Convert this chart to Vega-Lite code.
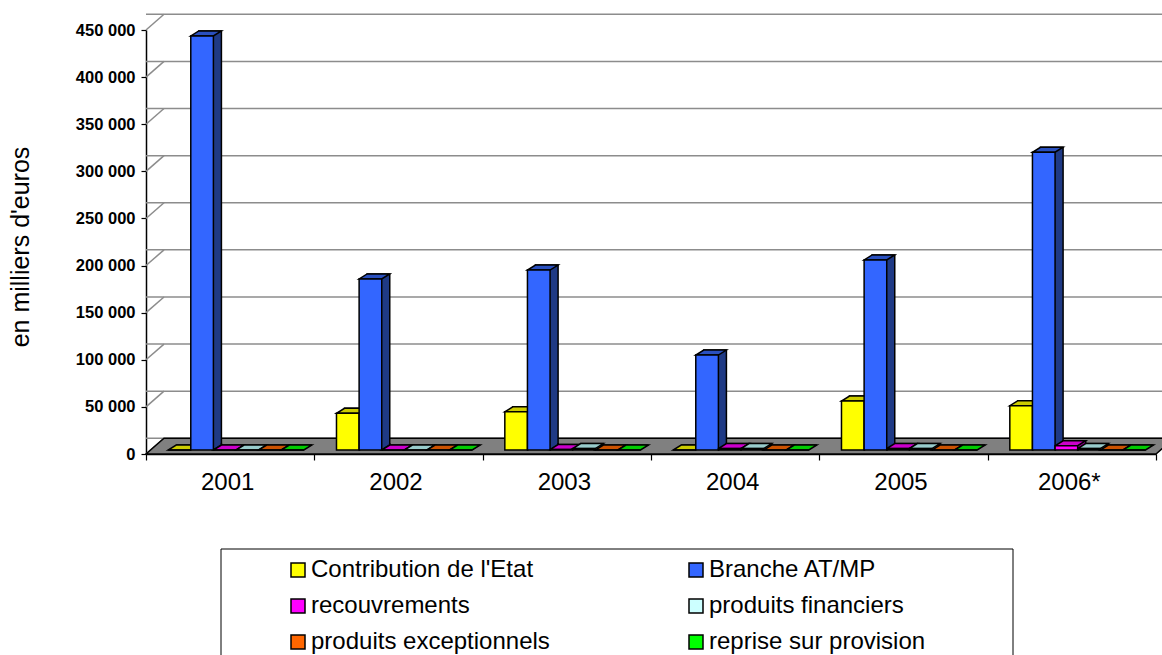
{"$schema":"https://vega.github.io/schema/vega-lite/v6.json","width":1010,"height":424,"autosize":{"type":"none"},"padding":{"left":146,"top":30,"right":6,"bottom":201},"background":"white",
"datasets":{"grid":[{"v":0},{"v":50000},{"v":100000},{"v":150000},{"v":200000},{"v":250000},{"v":300000},{"v":350000},{"v":400000},{"v":450000}],"origin":[{"v":0}],
"bars":[
{"annee":"2001","serie":"Contribution de l'Etat","valeur":0},{"annee":"2001","serie":"Branche AT/MP","valeur":439500},{"annee":"2001","serie":"recouvrements","valeur":0},{"annee":"2001","serie":"produits financiers","valeur":0},{"annee":"2001","serie":"produits exceptionnels","valeur":0},{"annee":"2001","serie":"reprise sur provision","valeur":0},
{"annee":"2002","serie":"Contribution de l'Etat","valeur":39000},{"annee":"2002","serie":"Branche AT/MP","valeur":181500},{"annee":"2002","serie":"recouvrements","valeur":0},{"annee":"2002","serie":"produits financiers","valeur":0},{"annee":"2002","serie":"produits exceptionnels","valeur":0},{"annee":"2002","serie":"reprise sur provision","valeur":0},
{"annee":"2003","serie":"Contribution de l'Etat","valeur":40500},{"annee":"2003","serie":"Branche AT/MP","valeur":191000},{"annee":"2003","serie":"recouvrements","valeur":500},{"annee":"2003","serie":"produits financiers","valeur":1500},{"annee":"2003","serie":"produits exceptionnels","valeur":0},{"annee":"2003","serie":"reprise sur provision","valeur":0},
{"annee":"2004","serie":"Contribution de l'Etat","valeur":0},{"annee":"2004","serie":"Branche AT/MP","valeur":100800},{"annee":"2004","serie":"recouvrements","valeur":1500},{"annee":"2004","serie":"produits financiers","valeur":1500},{"annee":"2004","serie":"produits exceptionnels","valeur":0},{"annee":"2004","serie":"reprise sur provision","valeur":0},
{"annee":"2005","serie":"Contribution de l'Etat","valeur":52000},{"annee":"2005","serie":"Branche AT/MP","valeur":201700},{"annee":"2005","serie":"recouvrements","valeur":1500},{"annee":"2005","serie":"produits financiers","valeur":1500},{"annee":"2005","serie":"produits exceptionnels","valeur":0},{"annee":"2005","serie":"reprise sur provision","valeur":0},
{"annee":"2006*","serie":"Contribution de l'Etat","valeur":47000},{"annee":"2006*","serie":"Branche AT/MP","valeur":316000},{"annee":"2006*","serie":"recouvrements","valeur":4500},{"annee":"2006*","serie":"produits financiers","valeur":1500},{"annee":"2006*","serie":"produits exceptionnels","valeur":0},{"annee":"2006*","serie":"reprise sur provision","valeur":0}
]},
"config":{"view":{"stroke":null},"font":"Liberation Sans"},
"resolve":{"scale":{"fill":"independent","xOffset":"independent"}},
"layer":[
{"data":{"name":"grid"},"mark":{"type":"rule","color":"#8c8c8c","strokeWidth":1.5,"xOffset":18,"x2Offset":18,"yOffset":-15.7,"clip":false},"encoding":{"y":{"field":"v","type":"quantitative","scale":{"domain":[0,450000],"nice":false},"title":"en milliers d'euros","axis":{"values":[0,50000,100000,150000,200000,250000,300000,350000,400000,450000],"labelExpr":"replace(format(datum.value,',d'),',',' ')","labelFontSize":16.5,"labelFontWeight":"bold","labelFont":"Liberation Sans","labelColor":"black","domainColor":"black","domainWidth":1.5,"tickColor":"black","tickWidth":1.2,"tickSize":5,"labelPadding":6,"grid":false,"titleFontSize":25,"titleFontWeight":"normal","titleFont":"Liberation Sans","titleColor":"black","titlePadding":42,"titleY":216.5}}}},
{"data":{"name":"grid"},"mark":{"type":"point","shape":"M0,0 L18,-15.7","size":4,"filled":false,"opacity":1,"stroke":"#8c8c8c","strokeWidth":1.5},"encoding":{"x":{"datum":"2001","type":"nominal","bandPosition":0},"y":{"field":"v","type":"quantitative"}}},
{"data":{"name":"origin"},"mark":{"type":"point","shape":"M0,0 L1010,0 L1028,-15.7 L18,-15.7 Z","size":4,"filled":true,"opacity":1,"fill":"#808080","stroke":"black","strokeWidth":1.5},"encoding":{"x":{"datum":"2001","type":"nominal","bandPosition":0},"y":{"field":"v","type":"quantitative"}}},
{"data":{"name":"origin"},"mark":{"type":"point","shape":"M75,95 L867,95 L867,215 L75,215 Z","size":4,"filled":false,"opacity":1,"stroke":"black","strokeWidth":1},"encoding":{"x":{"datum":"2001","type":"nominal","bandPosition":0},"y":{"field":"v","type":"quantitative"}}},
{"data":{"name":"bars"},"mark":{"type":"bar","yOffset":-9,"y2Offset":-9,"stroke":"black","strokeWidth":1.5},"encoding":{
"x":{"field":"annee","type":"nominal","sort":null,"scale":{"paddingInner":0,"paddingOuter":0},"title":null,"axis":{"tickBand":"extent","labelAngle":0,"labelAlign":"center","labelFontSize":24,"labelFont":"Liberation Sans","labelColor":"black","domainColor":"black","domainWidth":1.5,"tickColor":"black","tickWidth":1.2,"tickSize":6,"labelPadding":22,"labelOffset":-3,"grid":false}},
"xOffset":{"field":"serie","type":"nominal","scale":{"domain":["Contribution de l'Etat","Branche AT/MP","recouvrements","produits financiers","produits exceptionnels","reprise sur provision"],"paddingInner":0,"paddingOuter":0.72,"align":0.926}},
"y":{"field":"valeur","type":"quantitative"},
"fill":{"field":"serie","type":"nominal","legend":null,"scale":{"domain":["Contribution de l'Etat","Branche AT/MP","recouvrements","produits financiers","produits exceptionnels","reprise sur provision"],"range":["#999900","#1f3a85","#990099","#669999","#993300","#009900"]}}}},
{"data":{"name":"bars"},"transform":[{"filter":"datum.valeur > 2000"}],"mark":{"type":"point","shape":"M11.3,0 L19.3,-5 L19.3,-6 L11.3,-6 Z","size":4,"filled":true,"opacity":1,"yOffset":-4,"strokeWidth":0},"encoding":{
"x":{"field":"annee","type":"nominal","sort":null},
"xOffset":{"field":"serie","type":"nominal","scale":{"type":"band","domain":["Contribution de l'Etat","Branche AT/MP","recouvrements","produits financiers","produits exceptionnels","reprise sur provision"],"paddingInner":0,"paddingOuter":0.72,"align":0.68}},
"y":{"datum":0,"type":"quantitative"},
"fill":{"field":"serie","type":"nominal","legend":null,"scale":{"domain":["Contribution de l'Etat","Branche AT/MP","recouvrements","produits financiers","produits exceptionnels","reprise sur provision"],"range":["#999900","#1f3a85","#990099","#669999","#993300","#009900"]}}}},
{"data":{"name":"bars"},"transform":[{"filter":"datum.valeur > 2000"}],"mark":{"type":"point","shape":"M11.3,0 L19.3,-5 L19.3,-7","size":4,"filled":false,"opacity":1,"yOffset":-4,"stroke":"black","strokeWidth":1.5},"encoding":{
"x":{"field":"annee","type":"nominal","sort":null},
"xOffset":{"field":"serie","type":"nominal","scale":{"type":"band","domain":["Contribution de l'Etat","Branche AT/MP","recouvrements","produits financiers","produits exceptionnels","reprise sur provision"],"paddingInner":0,"paddingOuter":0.72,"align":0.68}},
"y":{"datum":0,"type":"quantitative"}}},
{"data":{"name":"bars"},"mark":{"type":"point","shape":"M-11.3,0 L11.3,0 L19.3,-5 L-3.3,-5 Z","size":4,"filled":true,"opacity":1,"yOffset":-4,"stroke":"black","strokeWidth":1.5},"encoding":{
"x":{"field":"annee","type":"nominal","sort":null},
"xOffset":{"field":"serie","type":"nominal","scale":{"type":"band","domain":["Contribution de l'Etat","Branche AT/MP","recouvrements","produits financiers","produits exceptionnels","reprise sur provision"],"paddingInner":0,"paddingOuter":0.72,"align":0.68}},
"y":{"field":"valeur","type":"quantitative"},
"fill":{"field":"serie","type":"nominal","legend":null,"scale":{"domain":["Contribution de l'Etat","Branche AT/MP","recouvrements","produits financiers","produits exceptionnels","reprise sur provision"],"range":["#cccc00","#2a50bf","#cc00cc","#99cccc","#cc5200","#00cc00"]}}}},
{"data":{"name":"bars"},"mark":{"type":"bar","yOffset":-4,"y2Offset":-4,"stroke":"black","strokeWidth":1.5},"encoding":{
"x":{"field":"annee","type":"nominal","sort":null},
"xOffset":{"field":"serie","type":"nominal","scale":{"domain":["Contribution de l'Etat","Branche AT/MP","recouvrements","produits financiers","produits exceptionnels","reprise sur provision"],"paddingInner":0,"paddingOuter":0.72,"align":0.68}},
"y":{"field":"valeur","type":"quantitative"},
"fill":{"field":"serie","type":"nominal","scale":{"domain":["Contribution de l'Etat","recouvrements","produits exceptionnels","Branche AT/MP","produits financiers","reprise sur provision"],"range":["#ffff00","#ff00ff","#ff6600","#3366ff","#ccffff","#00ff00"]},"legend":{"orient":"none","legendX":140,"legendY":528,"columns":2,"title":null,"symbolType":"square","symbolSize":196,"symbolStrokeColor":"black","symbolStrokeWidth":1.5,"labelFontSize":24,"labelFont":"Liberation Sans","labelColor":"black","labelOffset":1,"rowPadding":12,"columnPadding":134,"labelLimit":400,"padding":0,"gridAlign":"all"}}}}
]}
